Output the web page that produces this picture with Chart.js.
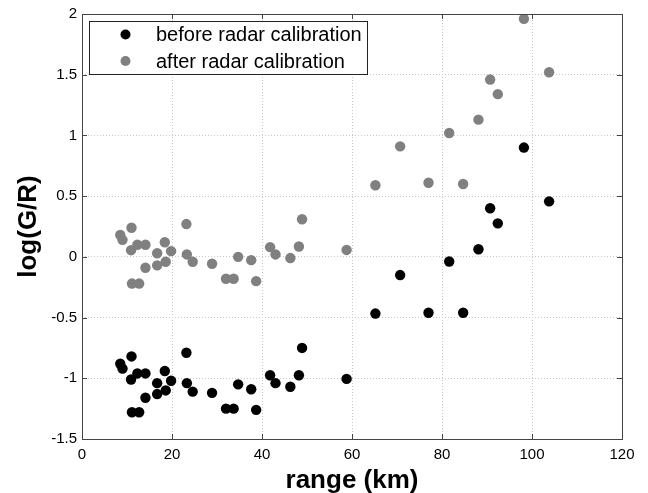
<!DOCTYPE html>
<html>
<head>
<meta charset="utf-8">
<script src="https://cdn.jsdelivr.net/npm/chart.js@4.4.1/dist/chart.umd.min.js"></script>
<style>
  html, body { margin: 0; padding: 0; background: #fff; }
  #wrap { width: 648px; height: 493px; }
</style>
</head>
<body>
<div id="wrap"><canvas id="grafico" width="648" height="493"></canvas></div>
<script>
// range (km) of each gauge, same for both series
const rangeKm = [8.5, 9.0, 11.0, 10.9, 12.3, 14.1, 14.1, 11.1, 12.7, 16.7, 16.7, 18.4, 18.6, 19.8,
  23.2, 23.3, 24.6, 28.9, 32.0, 33.7, 34.7, 37.6, 38.7, 41.8, 43.0, 46.3, 48.2, 48.9, 58.8,
  65.2, 70.7, 77.0, 81.6, 84.7, 88.1, 90.7, 92.4, 98.2, 103.8];

const antes = [-0.88, -0.92, -0.82, -1.01, -0.96, -0.96, -1.16, -1.28, -1.28, -1.04, -1.13, -0.94, -1.10, -1.02,
  -0.79, -1.04, -1.11, -1.12, -1.25, -1.25, -1.05, -1.09, -1.26, -0.975, -1.04, -1.07, -0.975, -0.75, -1.005,
  -0.467, -0.15, -0.46, -0.038, -0.46, 0.063, 0.40, 0.276, 0.90, 0.457];

const depois = [0.18, 0.14, 0.24, 0.055, 0.10, 0.10, -0.09, -0.22, -0.22, 0.03, -0.07, 0.12, -0.04, 0.047,
  0.27, 0.02, -0.04, -0.057, -0.18, -0.18, 0.0, -0.027, -0.20, 0.08, 0.02, -0.01, 0.085, 0.31, 0.057,
  0.59, 0.91, 0.61, 1.02, 0.60, 1.13, 1.46, 1.34, 1.96, 1.52];

const xTicks = [0, 20, 40, 60, 80, 100, 120];
const yTicks = [-1.5, -1, -0.5, 0, 0.5, 1, 1.5, 2];
const legendas = ['before radar calibration', 'after radar calibration'];
const cores = ['#000000', '#808080'];
const tituloX = 'range (km)';
const tituloY = 'log(G/R)';

const fonte = '"Liberation Sans", Arial, sans-serif';

const moldura = {
  id: 'moldura',
  afterDraw(chart) {
    const { ctx, chartArea: a, scales } = chart;
    ctx.save();
    ctx.strokeStyle = '#444';
    ctx.lineWidth = 1;
    ctx.strokeRect(a.left + 0.5, a.top + 0.5, a.right - a.left, a.bottom - a.top);
    // ticks para dentro
    ctx.beginPath();
    xTicks.forEach(v => {
      const px = Math.round(scales.x.getPixelForValue(v)) + 0.5;
      ctx.moveTo(px, a.bottom); ctx.lineTo(px, a.bottom - 5);
      ctx.moveTo(px, a.top); ctx.lineTo(px, a.top + 5);
    });
    yTicks.forEach(v => {
      const py = Math.round(scales.y.getPixelForValue(v)) + 0.5;
      ctx.moveTo(a.left, py); ctx.lineTo(a.left + 5, py);
      ctx.moveTo(a.right, py); ctx.lineTo(a.right - 5, py);
    });
    ctx.stroke();

    // titulos dos eixos
    ctx.fillStyle = '#000';
    ctx.font = 'bold 26px ' + fonte;
    ctx.textAlign = 'center';
    ctx.textBaseline = 'alphabetic';
    ctx.fillText(tituloX, (a.left + a.right) / 2, 488);
    ctx.save();
    ctx.translate(36, (a.top + a.bottom) / 2);
    ctx.rotate(-Math.PI / 2);
    ctx.fillText(tituloY, 0, 0);
    ctx.restore();

    // legenda
    const bx = 89, by = 21, bw = 278, bh = 53;
    ctx.fillStyle = '#fff';
    ctx.fillRect(bx, by, bw, bh);
    ctx.strokeStyle = '#222';
    ctx.strokeRect(bx + 0.5, by + 0.5, bw, bh);
    ctx.font = '20px ' + fonte;
    ctx.textBaseline = 'middle';
    ctx.textAlign = 'left';
    legendas.forEach((txt, i) => {
      const cy = 34.5 + i * 26.5;
      ctx.fillStyle = cores[i];
      ctx.beginPath();
      ctx.arc(125.5, cy, 5, 0, Math.PI * 2);
      ctx.fill();
      ctx.fillStyle = '#000';
      ctx.fillText(txt, 156, cy + 1);
    });
    ctx.restore();
  }
};

const ctx = document.getElementById('grafico').getContext('2d');
new Chart(ctx, {
  type: 'scatter',
  data: {
    datasets: [
      {
        label: legendas[0],
        data: rangeKm.map((x, i) => ({ x, y: antes[i] })),
        backgroundColor: cores[0],
        borderColor: cores[0],
        pointRadius: 5.2,
        borderWidth: 0
      },
      {
        label: legendas[1],
        data: rangeKm.map((x, i) => ({ x, y: depois[i] })),
        backgroundColor: cores[1],
        borderColor: cores[1],
        pointRadius: 5.2,
        borderWidth: 0
      }
    ]
  },
  options: {
    responsive: false,
    animation: false,
    layout: { padding: { top: 8, right: 26, left: 0, bottom: 0 } },
    plugins: {
      legend: { display: false },
      tooltip: { enabled: false }
    },
    scales: {
      x: {
        type: 'linear',
        min: 0, max: 120,
        afterBuildTicks: s => { s.ticks = xTicks.map(v => ({ value: v })); },
        afterFit: s => { s.height = 54; },
        grid: { color: '#c8c8c8', drawTicks: false, lineWidth: 1 },
        border: { display: false, dash: [1, 2] },
        ticks: { color: '#000', font: { family: fonte, size: 15 }, padding: 7, maxRotation: 0, callback: v => String(v) }
      },
      y: {
        type: 'linear',
        min: -1.5, max: 2,
        afterBuildTicks: s => { s.ticks = yTicks.map(v => ({ value: v })); },
        afterFit: s => { s.width = 82; },
        grid: { color: '#c8c8c8', drawTicks: false, lineWidth: 1 },
        border: { display: false, dash: [1, 2] },
        ticks: { color: '#000', font: { family: fonte, size: 15 }, padding: 5, callback: v => String(v) }
      }
    }
  },
  plugins: [moldura]
});
</script>
</body>
</html>
